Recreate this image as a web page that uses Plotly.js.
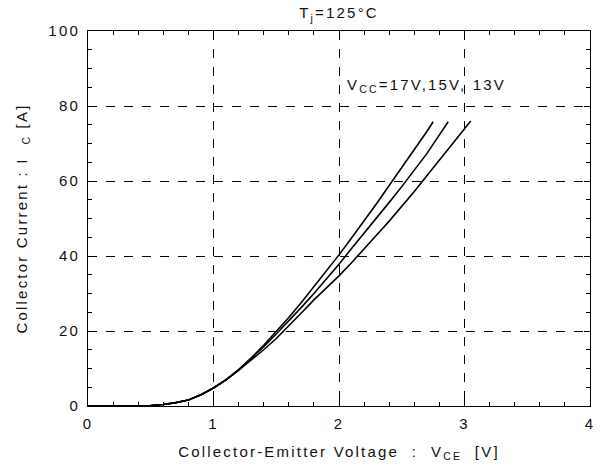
<!DOCTYPE html>
<html>
<head>
<meta charset="utf-8">
<script src="https://cdn.plot.ly/plotly-3.0.1.min.js"></script>
<style>
html,body{margin:0;padding:0;background:#fff;}
#chart{width:610px;height:471px;}
svg text{letter-spacing:2.2px;}
</style>
</head>
<body>
<div id="chart"></div>
<script>
// VCE [V] sample points and IC [A] for each control supply voltage
const vce17 = [0, 0.2, 0.4, 0.5, 0.6, 0.7, 0.8, 0.9, 1.0, 1.1, 1.2, 1.3, 1.4, 1.5, 1.6, 1.7, 1.8, 1.9, 2.0, 2.1, 2.2, 2.3, 2.4, 2.5, 2.6, 2.7, 2.75];
const ic17  = [0, 0, 0.05, 0.15, 0.4, 0.9, 1.6, 3.0, 4.8, 7.0, 9.7, 12.8, 16.2, 19.8, 23.6, 27.6, 31.8, 36.0, 40.3, 44.8, 49.3, 54.0, 58.8, 63.5, 68.3, 73.2, 75.8];

const vce15 = [0, 0.2, 0.4, 0.5, 0.6, 0.7, 0.8, 0.9, 1.0, 1.1, 1.2, 1.3, 1.4, 1.5, 1.6, 1.7, 1.8, 1.9, 2.0, 2.1, 2.2, 2.3, 2.4, 2.5, 2.6, 2.7, 2.8, 2.87];
const ic15  = [0, 0, 0.05, 0.15, 0.4, 0.9, 1.6, 3.0, 4.8, 7.0, 9.6, 12.6, 15.8, 19.2, 22.7, 26.3, 30.0, 33.8, 37.8, 42.0, 46.0, 50.0, 54.3, 58.5, 63.0, 67.3, 72.3, 75.8];

const vce13 = [0, 0.2, 0.4, 0.5, 0.6, 0.7, 0.8, 0.9, 1.0, 1.1, 1.2, 1.3, 1.4, 1.5, 1.6, 1.7, 1.8, 1.9, 2.0, 2.1, 2.2, 2.3, 2.4, 2.5, 2.6, 2.7, 2.8, 2.9, 3.0, 3.05];
const ic13  = [0, 0, 0.05, 0.15, 0.4, 0.9, 1.6, 3.0, 4.8, 7.0, 9.5, 12.2, 15.0, 18.0, 21.3, 24.8, 28.3, 31.5, 34.7, 38.2, 41.8, 45.6, 49.3, 53.2, 57.2, 61.4, 65.5, 69.6, 73.8, 76.0];

const chartTitle = "T<sub>j</sub>=125°C";
const xTitle = "Collector-Emitter Voltage  :  V<sub>CE</sub>  [V]";
const yTitle = "Collector Current : I  <sub>C</sub> [A]";
const noteText = "V<sub>CC</sub>=17V,15V, 13V";

const font = "Liberation Sans, Arial, Helvetica, sans-serif";
const fs = 15;
const lineStyle = {color: "#000", width: 1.6};

const traces = [
  {x: vce17, y: ic17, mode: "lines", line: lineStyle, name: "17V", hoverinfo: "skip"},
  {x: vce15, y: ic15, mode: "lines", line: lineStyle, name: "15V", hoverinfo: "skip"},
  {x: vce13, y: ic13, mode: "lines", line: lineStyle, name: "13V", hoverinfo: "skip"}
];

const axisCommon = {
  showline: true, linecolor: "#000", linewidth: 1, mirror: "allticks",
  ticks: "inside", ticklen: 6, tickcolor: "#000", tickwidth: 1,
  showgrid: true, gridcolor: "#000", griddash: "dash", gridwidth: 1,
  zeroline: false, ticklabelstandoff: 4,
  tickfont: {family: font, size: fs, color: "#111"}
};

const layout = {
  width: 610, height: 471,
  margin: {l: 88, r: 20, t: 31, b: 65},
  paper_bgcolor: "#fff", plot_bgcolor: "#fff",
  showlegend: false,
  font: {family: font, color: "#111"},
  title: {text: chartTitle, font: {family: font, size: fs, color: "#111"},
          x: 0.5, xref: "paper", xanchor: "center", y: 0.972, yref: "container", yanchor: "middle"},
  xaxis: Object.assign({}, axisCommon, {
    range: [0, 4], dtick: 1, tick0: 0,
    minor: {dtick: 0.2, ticks: "inside", ticklen: 4, tickcolor: "#000", showgrid: false},
    title: {text: xTitle, font: {family: font, size: fs, color: "#111"}, standoff: 15}
  }),
  yaxis: Object.assign({}, axisCommon, {
    range: [0, 100], dtick: 20, tick0: 0,
    minor: {dtick: 5, ticks: "inside", ticklen: 4, tickcolor: "#000", showgrid: false},
    title: {text: yTitle, font: {family: font, size: fs, color: "#111"}, standoff: 17}
  }),
  annotations: [{
    text: noteText, x: 2.05, y: 85.5, xref: "x", yref: "y",
    xanchor: "left", yanchor: "middle", showarrow: false,
    font: {family: font, size: fs, color: "#111"}
  }]
};

Plotly.newPlot("chart", traces, layout, {staticPlot: true, displayModeBar: false});
</script>
</body>
</html>
